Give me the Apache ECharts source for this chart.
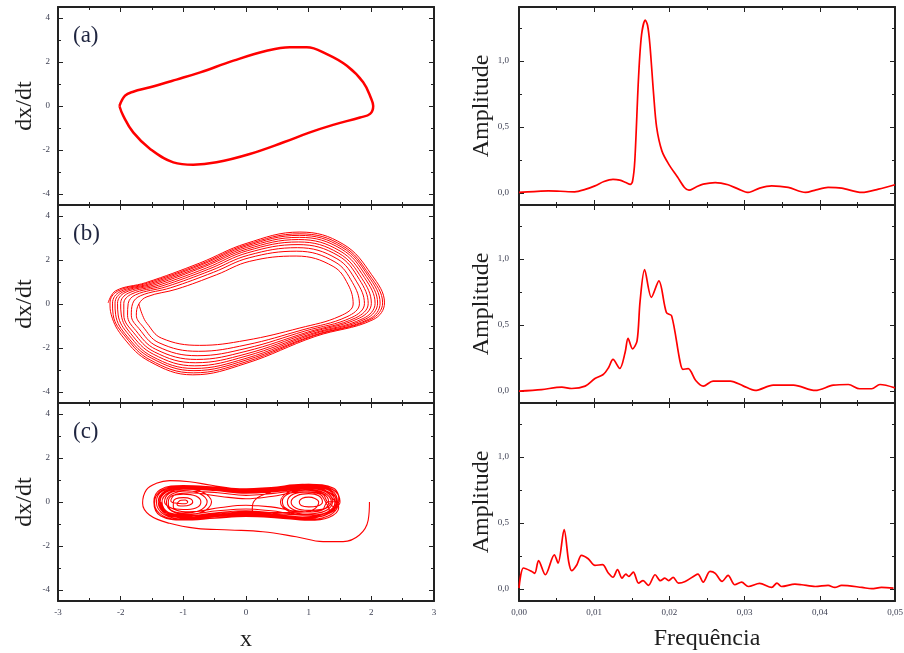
<!DOCTYPE html>
<html><head><meta charset="utf-8">
<script src="https://cdn.jsdelivr.net/npm/echarts@6/dist/echarts.min.js"></script>
<style>html,body{margin:0;padding:0;background:#fff}#c{width:904px;height:653px}</style>
</head><body><div id="c"></div>
<script>
// ---------- data ----------
const phaseA = [[-2.02,0.0],[-1.93,0.47],[-1.80,0.65],[-1.53,0.85],[-1.11,1.2],[-0.73,1.53],[-0.2,2.06],[0.33,2.51],[0.70,2.67],[0.97,2.67],[1.29,2.36],[1.61,1.83],[1.87,1.08],[2.0,0.32],[2.03,0.0],[1.98,-0.36],[1.82,-0.52],[1.39,-0.86],[1.02,-1.2],[0.6,-1.65],[0.06,-2.18],[-0.47,-2.56],[-0.84,-2.67],[-1.16,-2.56],[-1.53,-1.95],[-1.8,-1.2],[-1.96,-0.44],[-2.02,0.0]];

const phaseB = [
[-2.20,0.05],[-2.08,0.60],[-1.60,0.97],[-0.74,1.86],[0.00,2.75],[0.86,3.27],[1.55,2.72],[2.00,1.35],[2.21,0.05],[2.03,-0.71],[1.10,-1.48],[0.00,-2.70],[-0.85,-3.22],[-1.54,-2.61],[-1.95,-1.55],[-2.15,-0.49],
[-2.17,0.05],[-2.05,0.58],[-1.57,0.95],[-0.72,1.82],[0.00,2.69],[0.86,3.19],[1.54,2.65],[1.97,1.32],[2.18,0.05],[1.99,-0.70],[1.08,-1.45],[0.00,-2.63],[-0.84,-3.13],[-1.53,-2.54],[-1.92,-1.50],[-2.12,-0.49],
[-2.13,0.04],[-2.01,0.56],[-1.53,0.93],[-0.70,1.79],[0.01,2.64],[0.85,3.12],[1.53,2.58],[1.95,1.28],[2.14,0.04],[1.96,-0.69],[1.07,-1.43],[0.00,-2.55],[-0.83,-3.03],[-1.51,-2.46],[-1.90,-1.46],[-2.08,-0.49],
[-2.09,0.04],[-1.97,0.54],[-1.49,0.91],[-0.68,1.74],[0.01,2.57],[0.85,3.03],[1.52,2.50],[1.92,1.25],[2.10,0.04],[1.91,-0.68],[1.05,-1.39],[0.00,-2.47],[-0.83,-2.93],[-1.50,-2.38],[-1.87,-1.40],[-2.04,-0.50],
[-2.05,0.03],[-1.93,0.52],[-1.45,0.88],[-0.66,1.70],[0.02,2.50],[0.84,2.93],[1.50,2.41],[1.89,1.20],[2.06,0.03],[1.87,-0.66],[1.03,-1.36],[0.00,-2.37],[-0.82,-2.81],[-1.48,-2.28],[-1.84,-1.34],[-1.99,-0.50],
[-2.00,0.03],[-1.88,0.49],[-1.40,0.85],[-0.63,1.64],[0.02,2.42],[0.84,2.82],[1.48,2.31],[1.85,1.16],[2.00,0.03],[1.81,-0.64],[1.00,-1.32],[0.00,-2.27],[-0.81,-2.67],[-1.46,-2.18],[-1.80,-1.28],[-1.95,-0.50],
[-1.95,0.02],[-1.82,0.46],[-1.34,0.82],[-0.60,1.58],[0.03,2.33],[0.83,2.70],[1.47,2.20],[1.81,1.11],[1.95,0.02],[1.75,-0.63],[0.98,-1.28],[0.00,-2.15],[-0.79,-2.52],[-1.44,-2.06],[-1.76,-1.20],[-1.89,-0.51],
[-1.88,0.02],[-1.76,0.42],[-1.28,0.78],[-0.56,1.52],[0.04,2.22],[0.82,2.56],[1.45,2.06],[1.76,1.04],[1.89,0.02],[1.69,-0.61],[0.94,-1.23],[0.00,-2.02],[-0.78,-2.35],[-1.42,-1.92],[-1.71,-1.11],[-1.83,-0.51],
[-1.81,0.01],[-1.68,0.38],[-1.20,0.74],[-0.52,1.44],[0.05,2.10],[0.81,2.40],[1.42,1.91],[1.70,0.97],[1.81,0.01],[1.61,-0.58],[0.91,-1.17],[0.00,-1.86],[-0.76,-2.15],[-1.39,-1.76],[-1.65,-1.01],[-1.75,-0.51],
[-1.71,0.00],[-1.58,0.33],[-1.10,0.68],[-0.47,1.33],[0.06,1.94],[0.80,2.18],[1.39,1.71],[1.63,0.88],[1.71,0.00],[1.50,-0.55],[0.86,-1.09],[0.00,-1.65],[-0.74,-1.88],[-1.35,-1.55],[-1.58,-0.88],[-1.65,-0.52],[-1.71,0.00]
];

const phaseC = [
[1.97,0.00],[1.95,-0.82],[1.81,-1.50],[1.55,-1.80],[1.23,-1.80],[0.80,-1.58],[0.27,-1.35],[-0.26,-1.27],[-0.79,-1.20],[-1.22,-0.97],[-1.54,-0.59],[-1.65,-0.06],[-1.59,0.55],[-1.43,0.85],[-1.22,0.97],[-0.90,0.92],[-0.55,0.76],[-0.10,0.60],[0.40,0.66],[0.90,0.80],[1.30,0.66],[1.48,0.20],
[1.45,-0.30],[1.30,-0.65],[1.00,-0.80],[0.50,-0.70],[0.00,-0.64],[-0.50,-0.72],[-1.00,-0.80],[-1.33,-0.62],[-1.46,-0.05],[-1.35,0.52],[-1.00,0.72],[-0.50,0.66],[0.00,0.55],[0.50,0.64],[1.00,0.78],[1.38,0.58],[1.50,0.00],
[1.40,-0.35],[1.20,-0.66],[0.95,-0.72],[0.50,-0.62],[0.00,-0.55],[-0.50,-0.62],[-1.00,-0.72],[-1.28,-0.55],[-1.40,0.00],[-1.30,0.48],[-1.00,0.66],[-0.50,0.60],[0.00,0.48],[0.50,0.56],[1.00,0.70],[1.33,0.52],[1.44,0.00],
[1.35,-0.40],[1.12,-0.58],[0.85,-0.52],[0.62,-0.25],[0.58,0.05],[0.70,0.40],[1.00,0.55],[1.25,0.42],[1.36,0.00],
[1.26,-0.30],[1.00,-0.38],[0.80,-0.28],[0.72,0.00],[0.82,0.30],[1.00,0.38],[1.16,0.28],[1.22,0.00],
[1.14,-0.18],[1.00,-0.22],[0.88,-0.16],[0.85,0.00],[0.90,0.17],[1.00,0.22],[1.10,0.16],[1.16,0.00],
[1.10,-0.30],[0.95,-0.45],
[0.50,-0.48],[0.00,-0.40],[-0.50,-0.50],[-1.00,-0.64],[-1.24,-0.48],[-1.34,0.00],[-1.24,0.42],[-1.00,0.58],[-0.50,0.52],[0.00,0.40],[0.50,0.48],[1.00,0.62],[1.28,0.45],[1.38,0.00],
[1.30,-0.35],[1.10,-0.52],[0.85,-0.55],[0.40,-0.40],[0.00,-0.32],[-0.45,-0.40],[-0.95,-0.55],[-1.18,-0.42],[-1.27,0.00],[-1.18,0.36],[-0.95,0.50],[-0.45,0.42],[0.00,0.30],[0.40,0.38],[0.95,0.54],[1.22,0.40],[1.32,0.00],
[1.25,-0.32],[1.05,-0.45],[0.80,-0.42],[0.40,-0.22],[0.00,-0.15],[-0.40,-0.25],[-0.90,-0.45],[-1.12,-0.36],
[-1.30,0.00],[-1.22,0.40],[-1.00,0.52],[-0.75,0.40],[-0.62,0.00],[-0.75,-0.40],[-1.00,-0.50],[-1.20,-0.36],
[-1.24,0.00],[-1.18,0.28],[-1.00,0.36],[-0.80,0.27],[-0.72,0.00],[-0.80,-0.27],[-1.00,-0.34],[-1.16,-0.24],
[-1.16,0.00],[-1.12,0.15],[-1.00,0.20],[-0.88,0.14],[-0.85,0.00],[-0.90,-0.14],[-1.00,-0.18],[-1.10,-0.12],
[-1.08,0.00],[-1.04,0.08],[-0.97,0.09],[-0.93,0.00],[-0.97,-0.08],[-1.06,-0.07],
[-1.20,0.05],[-1.12,0.35],[-0.90,0.42],[-0.40,0.25],[0.00,0.15],[0.40,0.25],[0.90,0.46],[1.18,0.35],[1.27,0.00],
[1.33,-0.38],[1.15,-0.62],[0.90,-0.68],[0.45,-0.56],[0.00,-0.50],[-0.45,-0.58],[-1.00,-0.68],[-1.26,-0.52],[-1.37,0.00],[-1.27,0.45],[-1.00,0.62],[-0.50,0.56],[0.00,0.44],[0.50,0.52],[1.00,0.66],[1.30,0.48],[1.42,0.00],
[1.30,-0.45],[1.00,-0.60],[0.70,-0.45],[0.55,0.00],[0.68,0.45],[1.00,0.60],[1.32,0.45],[1.45,0.00],[1.35,-0.48],[1.05,-0.70],[0.50,-0.60],[0.10,-0.35],[0.12,0.00],[0.30,0.35],[0.80,0.70],[1.20,0.62],[1.40,0.10],
[1.48,-0.25],[1.32,-0.70],[1.00,-0.83],[0.50,-0.72],[0.00,-0.66],[-0.50,-0.74],[-1.00,-0.82],[-1.36,-0.64],[-1.47,0.00],[-1.37,0.56],[-1.00,0.75],[-0.50,0.68],[0.00,0.57],[0.50,0.66],[1.00,0.80],[1.40,0.62],[1.50,0.05],
[1.30,0.00],[1.22,-0.35],[1.00,-0.45],[0.76,-0.35],[0.66,0.00],[0.76,0.36],[1.00,0.46],[1.22,0.36],[1.30,0.00],
[1.42,-0.32],[1.25,-0.60],[0.98,-0.76],[0.50,-0.66],[0.00,-0.60],[-0.50,-0.66],[-0.98,-0.76],[-1.30,-0.58],[-1.43,0.00],[-1.33,0.50],[-0.98,0.69],[-0.50,0.63],[0.00,0.52],[0.50,0.60],[0.98,0.74],[1.35,0.55],[1.46,0.00],
[1.30,-0.50],[0.90,-0.60],[0.40,-0.50],[0.00,-0.45],[-0.50,-0.55],[-1.00,-0.62],[-1.30,-0.45],
[-1.38,0.00],[-1.28,0.46],[-1.00,0.60],[-0.70,0.46],[-0.55,0.00],[-0.70,-0.46],[-1.00,-0.58],[-1.28,-0.42],[-1.36,0.00]
];

const specA = [[0,0.005],[0.002,0.012],[0.0039,0.017],[0.0055,0.014],[0.0074,0.010],[0.0088,0.028],[0.0101,0.055],[0.0113,0.088],[0.0125,0.104],[0.0134,0.098],[0.0142,0.08],[0.0148,0.066],[0.0151,0.09],[0.0154,0.245],[0.0159,0.88],[0.0163,1.20],[0.0168,1.31],[0.0171,1.27],[0.0174,1.13],[0.0179,0.75],[0.0183,0.50],[0.019,0.32],[0.0199,0.22],[0.0211,0.12],[0.022,0.043],[0.0226,0.022],[0.0235,0.045],[0.0245,0.068],[0.0261,0.08],[0.0278,0.063],[0.0292,0.03],[0.0305,0.005],[0.032,0.038],[0.0336,0.055],[0.0358,0.043],[0.0381,0.005],[0.0395,0.025],[0.0411,0.043],[0.0429,0.038],[0.0456,0.005],[0.0478,0.03],[0.05,0.063]];

const specB = [[0,0],[0.003,0.012],[0.0057,0.03],[0.007,0.02],[0.0088,0.038],[0.0101,0.096],[0.0112,0.126],[0.0119,0.177],[0.0125,0.24],[0.0134,0.172],[0.0141,0.29],[0.0145,0.40],[0.0151,0.32],[0.0157,0.38],[0.0161,0.68],[0.0167,0.92],[0.0176,0.71],[0.0186,0.835],[0.0196,0.595],[0.0203,0.57],[0.0214,0.228],[0.0218,0.165],[0.0225,0.17],[0.0235,0.08],[0.0245,0.038],[0.0258,0.076],[0.0281,0.076],[0.0298,0.04],[0.0314,0.005],[0.0338,0.045],[0.0365,0.045],[0.0394,0.005],[0.0418,0.045],[0.0438,0.05],[0.0453,0.018],[0.0469,0.018],[0.048,0.05],[0.05,0.025]];

const specC = [[0,0.008],[0.0006,0.16],[0.0017,0.134],[0.0021,0.12],[0.0026,0.216],[0.0035,0.109],[0.0047,0.26],[0.0052,0.197],[0.006,0.45],[0.0066,0.21],[0.007,0.14],[0.0077,0.185],[0.0083,0.256],[0.0092,0.23],[0.0101,0.18],[0.0111,0.185],[0.0119,0.12],[0.0125,0.09],[0.0131,0.147],[0.0137,0.083],[0.0142,0.114],[0.0146,0.096],[0.0152,0.129],[0.0159,0.046],[0.0165,0.064],[0.0172,0.028],[0.0181,0.109],[0.0188,0.064],[0.0194,0.083],[0.0199,0.064],[0.0205,0.089],[0.0212,0.046],[0.0221,0.058],[0.0234,0.104],[0.0238,0.114],[0.0245,0.053],[0.0254,0.134],[0.0261,0.12],[0.027,0.058],[0.0278,0.104],[0.0287,0.033],[0.0296,0.053],[0.0305,0.02],[0.032,0.043],[0.0336,0.013],[0.0343,0.046],[0.0349,0.02],[0.0367,0.038],[0.0376,0.033],[0.0394,0.02],[0.0411,0.028],[0.042,0.013],[0.0429,0.028],[0.0456,0.013],[0.0469,0.003],[0.0482,0.013],[0.0498,0.008]];

const phaseXMajor = [-3,-2,-1,0,1,2,3];
const phaseXMinor = [-2.5,-1.5,-0.5,0.5,1.5,2.5];
const phaseYMajor = [-4,-2,0,2,4];
const phaseYMinor = [-3,-1,1,3];
const freqMajor = [0,0.01,0.02,0.03,0.04,0.05];
const freqMinor = [0.005,0.015,0.025,0.035,0.045];
const ampMajor = [0,0.5,1.0];
const ampMinor = [0.25,0.75,1.25];
const panelLabels = ['(a)','(b)','(c)'];
const phaseXName = 'x', phaseYName = 'dx/dt', freqName = 'Frequência', ampName = 'Amplitude';

// ---------- layout / style ----------
const AX = '#222';
const RED = '#ff0000';
const SERIF = 'Liberation Serif';
const tops = [7, 205, 403], H = 198;
const LEFT_L = 58, LEFT_R = 519, W = 376;

const grids = [], xAxes = [], yAxes = [], series = [];
const labelStyle = {fontSize: 9, fontFamily: SERIF, color: '#3c3f52'};
const nameStyle = {fontSize: 24, fontFamily: SERIF, color: '#1e1e1e'};

function addPanel(row, col, xc, yc, data, lw, smooth) {
  const gi = grids.length;
  grids.push({left: col === 0 ? LEFT_L : LEFT_R, top: tops[row], width: W, height: H, containLabel: false, outerBoundsMode: 'none'});
  const xi = xAxes.length, yi = yAxes.length;
  ['bottom', 'top'].forEach(pos => {
    [true, false].forEach(maj => {
      const primary = maj && pos === 'bottom';
      xAxes.push({
        type: 'value', gridIndex: gi, position: pos, min: xc.min, max: xc.max,
        axisLine: {show: maj, onZero: false, lineStyle: {color: AX, width: 2}},
        axisTick: {show: true, inside: true, length: maj ? 5 : 3, customValues: maj ? xc.major : xc.minor, lineStyle: {color: AX, width: 1}},
        axisLabel: Object.assign({show: primary && row === 2, customValues: xc.major, margin: 7, formatter: xc.fmt}, labelStyle),
        splitLine: {show: false},
        name: (primary && row === 2) ? xc.name : '',
        nameLocation: 'middle', nameGap: xc.gap, nameTextStyle: nameStyle
      });
    });
  });
  ['left', 'right'].forEach(pos => {
    [true, false].forEach(maj => {
      const primary = maj && pos === 'left';
      yAxes.push({
        type: 'value', gridIndex: gi, position: pos, min: yc.min, max: yc.max,
        axisLine: {show: maj, onZero: false, lineStyle: {color: AX, width: 2}},
        axisTick: {show: true, inside: true, length: maj ? 5 : 3, customValues: maj ? yc.major : yc.minor, lineStyle: {color: AX, width: 1}},
        axisLabel: Object.assign({show: primary, customValues: yc.major, margin: yc.margin, formatter: yc.fmt}, labelStyle),
        splitLine: {show: false},
        name: primary ? yc.name : '',
        nameLocation: 'middle', nameGap: yc.gap, nameTextStyle: nameStyle
      });
    });
  });
  series.push({
    type: 'line', xAxisIndex: xi, yAxisIndex: yi, data: data, smooth: smooth,
    showSymbol: false, symbol: 'none', animation: false,
    lineStyle: {color: RED, width: lw}
  });
}

const phaseX = {min: -3, max: 3, major: phaseXMajor, minor: phaseXMinor, name: phaseXName, fmt: v => String(v), gap: 27};
const phaseY = {min: -4.5, max: 4.5, major: phaseYMajor, minor: phaseYMinor, name: phaseYName, fmt: v => String(v), margin: 8, gap: 21};
const freqX = {min: 0, max: 0.05, major: freqMajor, minor: freqMinor, name: freqName, fmt: v => v.toFixed(2).replace('.', ','), gap: 26};
const ampY = {min: -0.09, max: 1.41, major: ampMajor, minor: ampMinor, name: ampName, fmt: v => v.toFixed(1).replace('.', ','), margin: 10, gap: 24};

addPanel(0, 0, phaseX, phaseY, phaseA, 2.5, 0.4);
addPanel(0, 1, freqX, ampY, specA, 1.7, 0.3);
addPanel(1, 0, phaseX, phaseY, phaseB, 1, 0.4);
addPanel(1, 1, freqX, ampY, specB, 1.7, 0.3);
addPanel(2, 0, phaseX, phaseY, phaseC, 1.1, 0.4);
addPanel(2, 1, freqX, ampY, specC, 1.7, 0.3);

const graphics = panelLabels.map((t, i) => ({
  type: 'text', left: 73, top: tops[i] + 17,
  style: {text: t, fontSize: 23, fontFamily: SERIF, fill: '#1f2540'}
}));

const chart = echarts.init(document.getElementById('c'), null, {renderer: 'canvas'});
chart.setOption({
  animation: false,
  backgroundColor: '#fff',
  grid: grids, xAxis: xAxes, yAxis: yAxes, series: series, graphic: graphics
});
</script></body></html>
